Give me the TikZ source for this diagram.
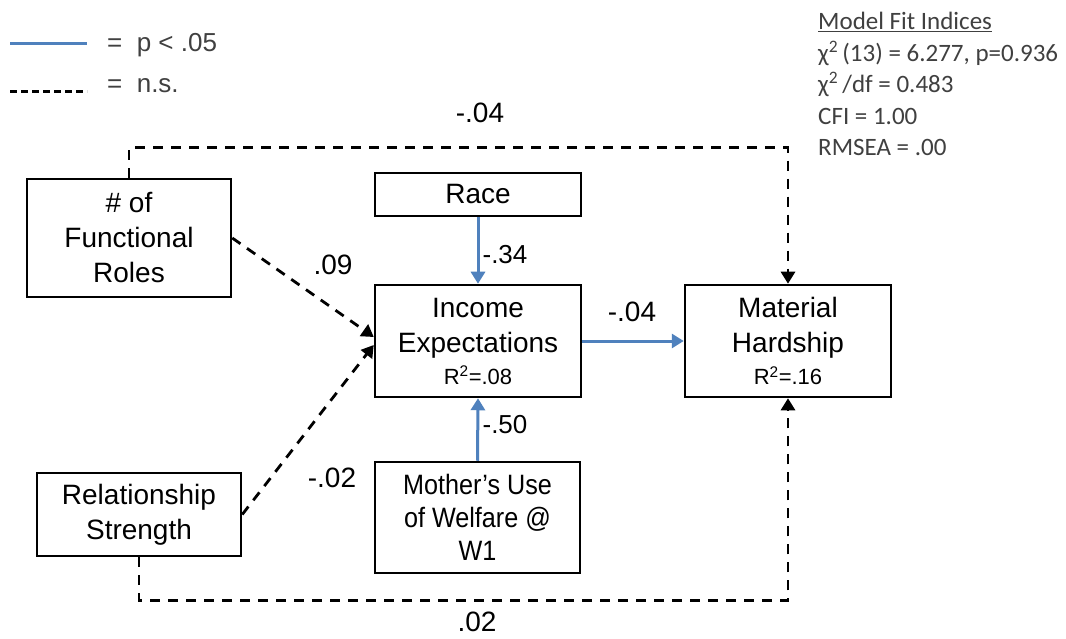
\documentclass[tikz,border=0pt]{standalone}
\usepackage{fontspec}
\setmainfont{Liberation Sans}
\newfontfamily\fitfont{Carlito}
\newfontfamily\narrowfont[FakeStretch=0.9]{Liberation Sans}
\newcommand\rsqfont{\fontsize{22}{26}\selectfont}
\usetikzlibrary{arrows.meta,calc}
\definecolor{sigblue}{HTML}{4F81BD}
\definecolor{legendgray}{HTML}{404040}
\begin{document}
\begin{tikzpicture}[x=1pt,y=-1pt,
  varbox/.style={draw=black,line width=2.5pt,inner sep=0pt,align=center,
    font=\fontsize{28}{35}\selectfont},
  sig/.style={draw=sigblue,line width=3pt,-{Triangle[width=14pt,length=12pt]}},
  ns/.style={draw=black,line width=2.8pt,dash pattern=on 10pt off 8pt,
    -{Triangle[width=14pt,length=12pt]}},
  coef/.style={inner sep=0pt,font=\fontsize{28}{34}\selectfont},
  coefsmall/.style={inner sep=0pt,font=\fontsize{26}{32}\selectfont},
  legtext/.style={inner sep=0pt,anchor=west,text=legendgray,font=\fontsize{26}{32}\selectfont},
  fittext/.style={inner sep=0pt,anchor=west,text=legendgray,font=\fitfont\fontsize{25}{30}\selectfont}]
\useasboundingbox (0,0) rectangle (1066,639);
\fill[white] (0,0) rectangle (1066,639);

% legend
\coordinate (lsA) at (10,44);
\coordinate (lsB) at (87,44);
\coordinate (lnA) at (10,92);
\coordinate (lnB) at (87,92);
\draw[draw=sigblue,line width=3pt] (lsA) -- (lsB);
\draw[line width=3pt,dash pattern=on 7pt off 4pt] (lnA) -- (lnB);
\node[legtext] (legsig) at (107,45) {=\ \ p < .05};
\node[legtext] (legns) at (107,86) {=\ \ n.s.};

% fit indices
\node[fittext] (fit0) at (818,22) {\underline{Model Fit Indices}};
\node[fittext] (fit1) at (818,53) {χ\textsuperscript{2}\,(13) = 6.277, p=0.936};
\node[fittext] (fit2) at (818,84) {χ\textsuperscript{2}\,/df = 0.483};
\node[fittext] (fit3) at (818,116) {CFI = 1.00};
\node[fittext] (fit4) at (818,147) {RMSEA = .00};

% variables
\node[varbox,minimum width=204pt,minimum height=118pt] (f) at (129,238)
  {\# of\\Functional\\Roles};
\node[varbox,minimum width=204pt,minimum height=83pt] (r) at (139,514.5)
  {Relationship\\Strength};
\node[varbox,minimum width=206pt,minimum height=43pt] (race) at (478,194.5)
  {Race};
\node[varbox,minimum width=206pt,minimum height=112pt] (i) at (478,341)
  {Income\\Expectations\\[-3pt]{\rsqfont R\textsuperscript{2}=.08}};
\node[varbox,minimum width=206pt,minimum height=112pt] (m) at (788,341)
  {Material\\Hardship\\[-3pt]{\rsqfont R\textsuperscript{2}=.16}};
\node[varbox,minimum width=205pt,minimum height=111pt,
  font=\narrowfont\fontsize{28}{33}\selectfont] (w) at (477.5,517.5)
  {Mother’s Use\\of Welfare @\\W1};

% significant paths
\draw[sig] (race.south) -- (i.north);
\draw[sig] (w.north) -- (i.south);
\draw[sig] (i.east) -- (m.west);

% non-significant paths
\draw[ns] (f.east) -- ($(i.west)+(0,-4)$);
\draw[ns] (r.east) -- ($(i.west)+(0,4)$);
\draw[ns] (f.north) -- ++(0,-30) -| (m.north);
\draw[ns] (r.south) -- ++(0,43) -| (m.south);

% coefficients
\node[coef] (cTop) at (480,113) {-.04};
\node[coef] (cIM) at (632,312) {-.04};
\node[coef] (cF) at (333,265) {.09};
\node[coef] (cR) at (332,478) {-.02};
\node[coef,anchor=base,text depth=0pt] (cBot) at (477,631) {.02};
\node[coefsmall] (cRace) at (505,255) {-.34};
\node[coefsmall] (cW) at (505,425) {-.50};
\end{tikzpicture}
\end{document}
